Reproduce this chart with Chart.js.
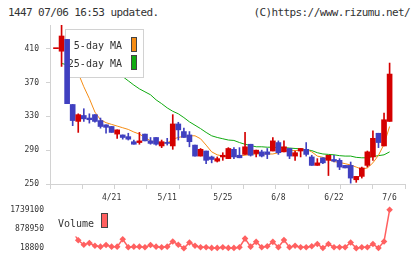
<!DOCTYPE html>
<html><head><meta charset="utf-8">
<script src="https://cdn.jsdelivr.net/npm/chart.js@4.4.1/dist/chart.umd.min.js"></script>
<style>
html,body{margin:0;padding:0;background:#fff;}
#wrap{position:relative;width:420px;height:259px;overflow:hidden;background:#fff;}
.hdr{position:absolute;top:7px;font-family:"DejaVu Sans Mono",monospace;font-size:11px;letter-spacing:-0.6px;color:#333;line-height:12px;white-space:nowrap;}
#c1{position:absolute;left:0;top:0;}
#c2{position:absolute;left:0;top:199px;}
</style></head><body>
<div id="wrap">
<div class="hdr" style="left:8px">1447 07/06 16:53 updated.</div>
<div class="hdr" style="right:10px">(C)https://www.rizumu.net/</div>
<canvas id="c1" width="420" height="205" style="width:420px;height:205px"></canvas>
<canvas id="c2" width="420" height="60" style="width:420px;height:60px"></canvas>
</div>
<script>
const dates = ['4/7','4/8','4/9','4/10','4/13','4/14','4/15','4/16','4/17','4/20',
  '4/21','4/22','4/23','4/24','4/27','4/28','4/30','5/1','5/7','5/8',
  '5/11','5/12','5/13','5/14','5/15','5/18','5/19','5/20','5/21','5/22',
  '5/25','5/26','5/27','5/28','5/29','6/1','6/2','6/3','6/4','6/5',
  '6/8','6/9','6/10','6/11','6/12','6/15','6/16','6/17','6/18','6/19',
  '6/22','6/23','6/24','6/25','6/26','6/29','6/30','7/1','7/2','7/3','7/6'];
const tickDates = ['4/21','5/11','5/25','6/8','6/22','7/6'];
const priceTicks = [250,290,330,370,410];
const volumeTicks = [18800,878950,1739100];

const open  = [410,407,421,344,324,331,328,332,325,320, 318,309,308,306,300,299,309,301,305,295, 299,295,321,312,308,296,283,289,282,277, 282,280,291,284,285,297,286,288,288,289, 299,288,292,283,289,291,282,272,281,278, 279,278,272,272,255,259,272,282,310,295,324];
const high  = [410,445,421,344,333,339,333,332,328,320, 318,314,308,310,302,311,309,305,305,302, 304,332,323,316,312,296,292,289,283,282, 287,293,293,293,311,297,290,290,292,305, 301,301,292,289,292,299,284,280,281,284, 284,280,272,276,259,270,289,313,310,334,393];
const low   = [410,389,345,319,311,324,322,323,316,310, 311,304,303,302,297,297,301,297,296,293, 296,291,302,305,294,283,283,274,275,276, 278,280,280,281,285,283,282,282,280,289, 285,288,280,278,282,283,272,272,274,260, 276,267,269,251,252,257,270,278,293,295,324];
const close = [410,425,345,325,332,327,326,324,318,317, 311,314,305,303,297,301,301,298,297,300, 298,321,314,305,300,283,291,278,279,280, 284,292,282,281,294,284,290,283,285,301, 287,294,283,287,292,285,272,275,275,284, 277,270,269,257,259,269,288,304,299,326,380];
const ma5   = [null,null,410,396,381,365,351,335,326,322.5, 320.5,318.5,316.5,314.5,311.5,309,305,301,299,298.5, 298.5,303,305,306.5,307,307,303.5,296,288,284.5, 283,282.5,282.5,283,284,285,285.5,285.5,285.5,285.5, 287,289.5,289.5,289.5,289.5,291,288,283,281.5,279, 276.5,275.5,274,272.5,270,267.5,269,275,284,297,318];
const ma25  = [null,392.5,391,390,389,388,387,386,384.5,383, 381,379,377,372,367,362.5,359,355.5,349.5,345, 340,336,333,328.5,323.5,319.5,315.5,311,307,305, 303.5,302,301.5,299,297,295.5,294,294,293.5,293.5, 293,293,292.5,292,291.5,290.5,289.5,287,285.5,285, 284.5,283.5,283,283,281.5,281,281,282.5,283.5,284.5,288];
const volume = [null,720000,1200000,770000,376000,174000,247000,131000,88000,161000, 88000,88000,419000,62000,88000,88000,62000,161000,88000,62000, 88000,320000,174000,18800,277000,131000,62000,62000,32000,32000, 62000,32000,32000,62000,449000,88000,303000,62000,105000,303000, 62000,389000,62000,131000,62000,62000,105000,204000,25000,204000, 62000,62000,62000,277000,22000,62000,62000,204000,25000,320000,1739100];
const seriesNames = ['5-day MA','25-day MA','Volume'];

const UP = 'rgb(212,0,0)', DOWN = 'rgb(64,64,192)';
const ORANGE = 'rgb(245,140,20)', GREEN = 'rgb(16,170,16)', VOL = 'rgb(255,96,96)';
const AXIS = '#d2d2d2', TXT = '#333';
const mono = '"DejaVu Sans Mono", monospace';
const XMIN = -1.08, XMAX = 62.77;
const idx = dates.map((d, i) => i);
const candleColor = i => close[i] >= open[i] ? UP : DOWN;

const priceLegend = {
  id: 'priceLegend',
  beforeDatasetDraw(chart, args) {
    if (args.index !== 1) return;
    const ctx = chart.ctx;
    ctx.save();
    ctx.fillStyle = '#fff';
    ctx.fillRect(65, 29, 78, 48);
    ctx.strokeStyle = AXIS; ctx.lineWidth = 1;
    ctx.strokeRect(65.5, 29.5, 78, 48);
    ctx.font = '10px ' + mono;
    ctx.textAlign = 'right'; ctx.textBaseline = 'alphabetic';
    [2, 3].forEach((di, j) => {
      const ds = chart.data.datasets[di];
      const base = 49.3 + j * 17.4;
      ctx.fillStyle = TXT;
      ctx.fillText(ds.label, 122, base);
      const top = 37 + j * 18;
      ctx.fillStyle = ds.borderColor;
      ctx.fillRect(131, top, 6, 15);
      ctx.strokeStyle = '#444';
      ctx.strokeRect(131.5, top + 0.5, 5, 14);
    });
    ctx.restore();
  }
};

const volumeLegend = {
  id: 'volumeLegend',
  afterDatasetsDraw(chart) {
    const ctx = chart.ctx;
    ctx.save();
    ctx.fillStyle = '#fff';
    ctx.fillRect(53, 3, 60, 34.5);
    ctx.font = '10px ' + mono;
    ctx.textAlign = 'left'; ctx.textBaseline = 'alphabetic';
    ctx.fillStyle = TXT;
    ctx.fillText(chart.data.datasets[0].label, 58, 27.7);
    ctx.fillStyle = VOL;
    ctx.fillRect(101, 14, 7, 15);
    ctx.strokeStyle = '#444'; ctx.lineWidth = 1;
    ctx.strokeRect(101.5, 14.5, 6, 14);
    ctx.restore();
  }
};

new Chart(document.getElementById('c1'), {
  type: 'bar',
  data: {
    datasets: [
      { type: 'bar', label: 'body', data: idx.map(i => ({ x: i, y: [open[i], close[i]] })),
        backgroundColor: idx.map(candleColor), barThickness: 5, grouped: false, minBarLength: 1, order: 0 },
      { type: 'bar', label: 'wick', data: idx.map(i => ({ x: i, y: [low[i], high[i]] })),
        backgroundColor: idx.map(candleColor), barThickness: 1, grouped: false, order: 1 },
      { type: 'line', label: seriesNames[0], data: idx.map(i => ({ x: i, y: ma5[i] })),
        borderColor: ORANGE, backgroundColor: ORANGE, borderWidth: 1, pointRadius: 0, tension: 0, order: 2 },
      { type: 'line', label: seriesNames[1], data: idx.map(i => ({ x: i, y: ma25[i] })),
        borderColor: GREEN, backgroundColor: GREEN, borderWidth: 1, pointRadius: 0, tension: 0, order: 3 }
    ]
  },
  options: {
    responsive: false, animation: false, events: [],
    layout: { padding: { left: 0, right: 15, top: 25, bottom: 0 } },
    plugins: { legend: { display: false }, tooltip: { enabled: false } },
    scales: {
      x: { type: 'linear', position: 'bottom', min: XMIN, max: XMAX, weight: 0, offset: false,
        afterBuildTicks: s => { s.ticks = Array.from({ length: 12 }, (_, j) => ({ value: XMIN + j * (XMAX - XMIN) / 11 })); },
        afterFit: s => { s.height = 6; },
        ticks: { display: false },
        grid: { drawOnChartArea: false, drawTicks: true, tickLength: 5, color: AXIS, offset: false },
        border: { display: true, color: AXIS } },
      xl: { type: 'linear', position: 'bottom', min: XMIN, max: XMAX, weight: 1, offset: false,
        afterBuildTicks: s => { s.ticks = tickDates.map(d => ({ value: dates.indexOf(d) })); },
        afterFit: s => { s.height = 15; },
        ticks: { callback: v => dates[v], font: { family: mono, size: 8 }, color: TXT, padding: 3, maxRotation: 0, autoSkip: false },
        grid: { display: false, drawTicks: false, offset: false }, border: { display: false } },
      y: { type: 'linear', min: 250, max: 438,
        afterBuildTicks: s => { s.ticks = priceTicks.map(v => ({ value: v })); },
        afterFit: s => { s.width = 50; },
        ticks: { callback: v => String(v), font: { family: mono, size: 8 }, color: TXT, padding: 7 },
        grid: { drawOnChartArea: false, tickLength: 4, color: AXIS },
        border: { color: AXIS } }
    }
  },
  plugins: [priceLegend]
});

new Chart(document.getElementById('c2'), {
  type: 'line',
  data: {
    datasets: [{ label: seriesNames[2], data: idx.map(i => ({ x: i, y: volume[i] })),
      borderColor: VOL, backgroundColor: VOL, borderWidth: 1.5, pointStyle: 'rectRot',
      pointRadius: 3.3, pointBorderWidth: 0, tension: 0, clip: false }]
  },
  options: {
    responsive: false, animation: false, events: [],
    layout: { padding: { left: 0, right: 15, top: 10, bottom: 10 } },
    plugins: { legend: { display: false }, tooltip: { enabled: false } },
    scales: {
      x: { type: 'linear', min: XMIN, max: XMAX, display: false },
      y: { type: 'linear', min: 18800, max: 1739100,
        afterBuildTicks: s => { s.ticks = volumeTicks.map(v => ({ value: v })); },
        afterFit: s => { s.width = 50; },
        ticks: { callback: v => String(v), font: { family: mono, size: 8 }, color: TXT, padding: 6 },
        grid: { display: false, drawTicks: false }, border: { display: false } }
    }
  },
  plugins: [volumeLegend]
});
</script>
</body></html>
